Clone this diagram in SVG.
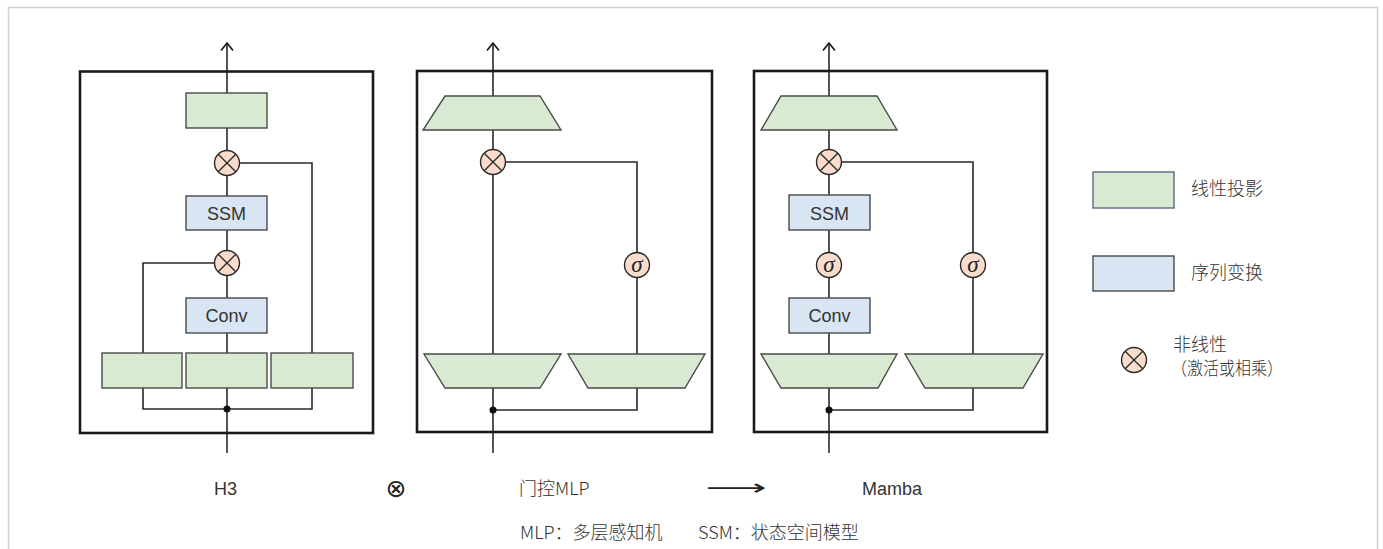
<svg xmlns="http://www.w3.org/2000/svg" width="1383" height="549" viewBox="0 0 1383 549">
<style>
.frame{fill:none;stroke:#d0d0d0;stroke-width:1.5}
.box{fill:none;stroke:#1a1a1a;stroke-width:2.6}
.ln{fill:none;stroke:#2a2a2a;stroke-width:1.6}
.g{fill:#d9ead3;stroke:#4a4a4a;stroke-width:1.4}
.b{fill:#d8e5f2;stroke:#4a4a4a;stroke-width:1.4}
.c{fill:#f9dccb;stroke:#2a2a2a;stroke-width:1.4}
.x{stroke:#2a2a2a;stroke-width:1.3}
.t{font-family:"Liberation Sans","Noto Sans CJK SC",sans-serif;font-size:18px;fill:#333}
.cn{font-family:"Noto Sans CJK SC","Liberation Sans",sans-serif;font-size:18px;fill:#333;font-weight:300}
.s{font-family:"Liberation Serif",serif;font-style:italic;font-size:23px;fill:#222}
</style>
<defs>
<g id="mul"><circle r="12.5" class="c"/><line x1="-8.8" y1="-8.8" x2="8.8" y2="8.8" class="x"/><line x1="-8.8" y1="8.8" x2="8.8" y2="-8.8" class="x"/></g>
<g id="sig"><circle r="12.5" class="c"/><text y="6.5" text-anchor="middle" class="s">σ</text></g>
<marker id="arr" markerWidth="14" markerHeight="14" refX="10" refY="7" orient="auto" markerUnits="userSpaceOnUse" viewBox="0 0 14 14"><path d="M2.5,1 L10,7 L2.5,13" fill="none" stroke="#1a1a1a" stroke-width="1.7"/></marker>
</defs>
<path class="frame" d="M8.5,549 V7.5 H1377.5 V549"/>

<g id="connectors">
<line class="ln" x1="227" y1="453" x2="227" y2="43" marker-end="url(#arr)"/>
<path class="ln" d="M143,388 V409 H312 V388"/>
<path class="ln" d="M143,353 V263 H227"/>
<path class="ln" d="M312,353 V163 H227"/>
<line class="ln" x1="493" y1="453" x2="493" y2="43" marker-end="url(#arr)"/>
<path class="ln" d="M493,410 H637 V388"/>
<path class="ln" d="M637,354 V162 H493"/>
<line class="ln" x1="829" y1="453" x2="829" y2="43" marker-end="url(#arr)"/>
<path class="ln" d="M829,410 H973 V388"/>
<path class="ln" d="M973,354 V162 H829"/>
</g>

<g id="h3">
<rect class="box" x="80" y="71.5" width="293" height="361.5"/>
<rect class="g" x="186" y="93" width="81" height="35"/>
<use href="#mul" x="227" y="163"/>
<rect class="b" x="186" y="196" width="81" height="34"/>
<text class="t" x="226.5" y="220" text-anchor="middle">SSM</text>
<use href="#mul" x="227" y="263"/>
<rect class="b" x="186" y="298" width="81" height="35"/>
<text class="t" x="226.5" y="322" text-anchor="middle">Conv</text>
<rect class="g" x="102" y="353" width="80" height="35"/>
<rect class="g" x="186" y="353" width="81" height="35"/>
<rect class="g" x="271" y="353" width="82" height="35"/>
<circle cx="227" cy="409" r="3.5" fill="#111"/>
</g>

<g id="gated-mlp">
<rect class="box" x="417" y="71" width="295" height="361"/>
<polygon class="g" points="445,96 540,96 561,130 423,130"/>
<use href="#mul" x="493" y="162"/>
<use href="#sig" x="637" y="265"/>
<polygon class="g" points="424,354 561,354 540,388 445,388"/>
<polygon class="g" points="568,354 705,354 685,388 588,388"/>
<circle cx="493" cy="410" r="3.5" fill="#111"/>
</g>

<g id="mamba">
<rect class="box" x="754" y="71" width="293" height="361"/>
<polygon class="g" points="781,96 877,96 897,130 761,130"/>
<use href="#mul" x="829" y="162"/>
<rect class="b" x="789" y="195" width="81" height="35"/>
<text class="t" x="829.5" y="220" text-anchor="middle">SSM</text>
<use href="#sig" x="829" y="265"/>
<use href="#sig" x="973" y="265"/>
<rect class="b" x="789" y="298" width="81" height="35"/>
<text class="t" x="829.5" y="322" text-anchor="middle">Conv</text>
<polygon class="g" points="761,354 897,354 878,388 781,388"/>
<polygon class="g" points="905,354 1043,354 1023,388 925,388"/>
<circle cx="829" cy="410" r="3.5" fill="#111"/>
</g>

<g id="legend-linear">
<rect x="1093" y="172" width="81" height="36" fill="#d9ead3" stroke="#5a6a8a" stroke-width="1.4"/>
<text class="cn" x="1191" y="195">线性投影</text>
</g>
<g id="legend-seq">
<rect class="b" x="1093" y="256" width="81" height="35"/>
<text class="cn" x="1191" y="279">序列变换</text>
</g>
<g id="legend-nonlinear">
<use href="#mul" x="1134" y="360"/>
<text class="cn" x="1173" y="351">非线性</text>
<text class="cn" x="1171" y="375" textLength="112" lengthAdjust="spacingAndGlyphs">（激活或相乘）</text>
</g>

<g id="labels">
<text class="t" x="214" y="495">H3</text>
<text x="396" y="497" text-anchor="middle" font-family="DejaVu Sans,sans-serif" font-size="25" fill="#222">⊗</text>
<text class="cn" x="519" y="495">门控MLP</text>
<text x="706" y="495" font-family="DejaVu Sans,sans-serif" font-size="22" fill="#222" textLength="61" lengthAdjust="spacingAndGlyphs">⟶</text>
<text class="t" x="862" y="495">Mamba</text>
<text class="cn" x="520" y="539">MLP：多层感知机</text>
<text class="cn" x="698" y="539">SSM：状态空间模型</text>
</g>
</svg>
